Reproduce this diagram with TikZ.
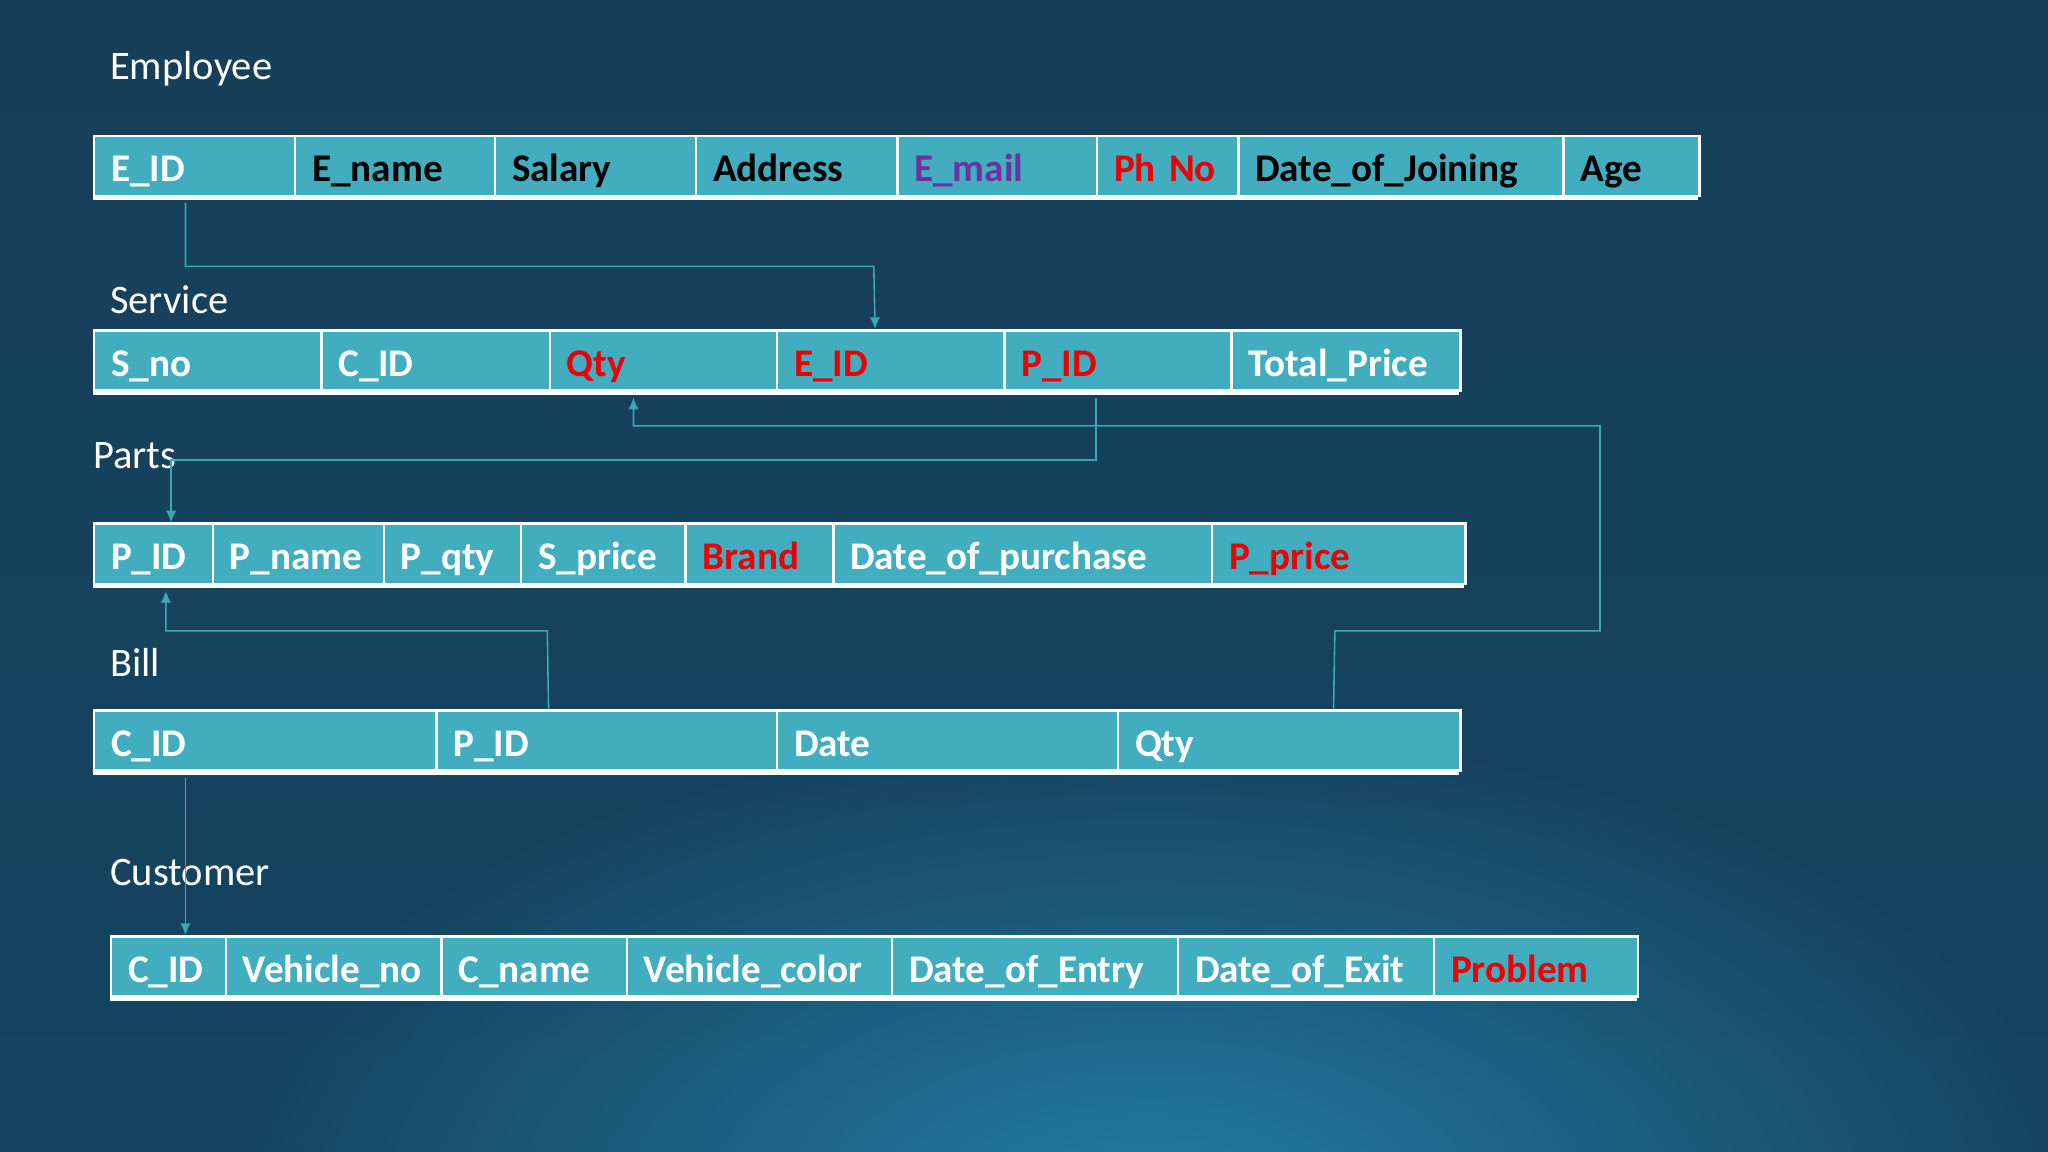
\documentclass[tikz,border=0pt]{standalone}
\usepackage{fontspec}
\setmainfont{Carlito}
\usetikzlibrary{arrows.meta,fadings}
\definecolor{cellc}{RGB}{66,173,190}
\definecolor{bgtop}{RGB}{23,63,90}
\definecolor{bgbot}{RGB}{20,68,96}
\definecolor{glowc}{RGB}{40,135,178}
\definecolor{connc}{RGB}{58,166,184}
\definecolor{redc}{RGB}{235,0,0}
\definecolor{purpc}{RGB}{112,48,160}
\tikzfading[name=glowfade, inner color=transparent!15, outer color=transparent!100]
\begin{document}
\begin{tikzpicture}[x=0.5pt,y=-0.5pt,
 cell/.style={draw=white, line width=1pt, fill=cellc, anchor=north west,
   minimum height=23pt, inner xsep=6.5pt, inner ysep=0pt,
   text height=15pt, text depth=3pt, align=left,
   font=\fontsize{15}{18}\selectfont\bfseries, text=white},
 title/.style={anchor=base west, inner sep=0pt, text=white,
   font=\fontsize{15.5}{18}\selectfont},
 conn/.style={draw=connc, line width=0.6pt},
 arr/.style={conn, -{Latex[length=4.5pt,width=4pt]}},
 bar/.style={fill=white}]
% background
\useasboundingbox (0,0) rectangle (1568,882);
\shade[top color=bgtop, bottom color=bgbot] (0,0) rectangle (1568,882);
\fill[glowc, path fading=glowfade] (880,930) ellipse (720 and 380);

% titles
\node[title] (tEmp) at (84,61) {Employee};
\node[title] (tSer) at (84,240) {Service};
\node[title] (tPar) at (71,359) {Parts};
\node[title] (tBil) at (84,518) {Bill};
\node[title] (tCus) at (84,678) {Customer};

% Employee
\node[cell, text width=64pt]   (e1) at (71,103)  {E\_ID};
\node[cell, text width=63.5pt, text=black] (e2) at (225,103) {E\_name};
\node[cell, text width=64pt, text=black]   (e3) at (378,103) {Salary};
\node[cell, text width=64pt, text=black]   (e4) at (532,103) {Address};
\node[cell, text width=63.5pt, text=purpc] (e5) at (686,103) {E\_mail};
\node[cell, text width=41pt, text=redc]    (e6) at (839,103) {\mbox{Ph No}};
\node[cell, text width=111.5pt, text=black] (e7) at (947,103) {Date\_of\_Joining};
\node[cell, text width=39pt, text=black]   (e8) at (1196,103) {Age};
\fill[bar] (71,149) rectangle (1300,153.5);

% Service
\node[cell, text width=74pt]   (s1) at (71,252)  {S\_no};
\node[cell, text width=74.5pt] (s2) at (245,252) {C\_ID};
\node[cell, text width=74pt, text=redc] (s3) at (420,252) {Qty};
\node[cell, text width=74pt, text=redc] (s4) at (594,252) {E\_ID};
\node[cell, text width=74pt, text=redc] (s5) at (768,252) {P\_ID};
\node[cell, text width=74.5pt] (s6) at (942,252) {Total\_Price};
\fill[bar] (71,298) rectangle (1117,302.5);

% Parts
\node[cell, text width=32.5pt] (p1) at (71,400)  {P\_ID};
\node[cell, text width=52.5pt] (p2) at (162,400) {P\_name};
\node[cell, text width=39.5pt] (p3) at (293,400) {P\_qty};
\node[cell, text width=50pt]   (p4) at (398,400) {S\_price};
\node[cell, text width=43.5pt, text=redc] (p5) at (524,400) {Brand};
\node[cell, text width=132pt]  (p6) at (637,400) {Date\_of\_purchase};
\node[cell, text width=84pt, text=redc] (p7) at (927,400) {P\_price};
\fill[bar] (71,446) rectangle (1121,450.5);

% Bill
\node[cell, text width=118pt]   (b1) at (71,543)  {C\_ID};
\node[cell, text width=117.5pt] (b2) at (333,543) {P\_ID};
\node[cell, text width=117.5pt] (b3) at (594,543) {Date};
\node[cell, text width=118pt]   (b4) at (855,543) {Qty};
\fill[bar] (71,589) rectangle (1117,593.5);

% Customer
\node[cell, text width=31pt]   (c1) at (84,716)  {C\_ID};
\node[cell, text width=69.5pt] (c2) at (172,716) {Vehicle\_no};
\node[cell, text width=58pt]   (c3) at (337,716) {C\_name};
\node[cell, text width=88.5pt] (c4) at (479,716) {Vehicle\_color};
\node[cell, text width=96.5pt] (c5) at (682,716) {Date\_of\_Entry};
\node[cell, text width=85pt]   (c6) at (901,716) {Date\_of\_Exit};
\node[cell, text width=65pt, text=redc] (c7) at (1097,716) {Problem};
\fill[bar] (84,762) rectangle (1253,766.5);

% connectors
\draw[arr] ([xshift=35.5pt,yshift=-2.2pt]e1.south west)
   |- ([xshift=37.5pt,yshift=24pt]s4.north west)
   -- ([xshift=38pt]s4.north west);
\draw[arr] ([xshift=35.5pt,yshift=-2.2pt]s5.south west)
   |- ([xshift=30pt,yshift=24pt]p1.north west)
   -- ([xshift=30pt]p1.north west);
\draw[arr] ([xshift=83pt]b4.north west) -- ++(0.5pt,30pt) -- ++(101.5pt,0pt)
   |- ([xshift=32.5pt,yshift=-13pt]s3.south west)
   -- ([xshift=32.5pt,yshift=-2.2pt]s3.south west);
\draw[arr] ([xshift=43.5pt]b2.north west) -- ++(-0.5pt,30pt)
   -| ([xshift=28pt,yshift=-2.2pt]p1.south west);
\draw[arr] ([xshift=35.5pt,yshift=-2.2pt]b1.south west)
   -- ([xshift=29pt]c1.north west);
\end{tikzpicture}
\end{document}
